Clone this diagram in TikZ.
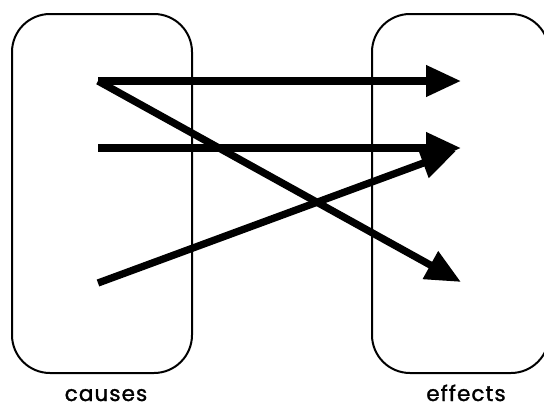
\documentclass[tikz,border=0pt]{standalone}
\usepackage{fontspec}
\newfontfamily\labelfont[LetterSpace=5, FakeBold=1.4]{Poppins}
\usetikzlibrary{arrows.meta}
\begin{document}
\begin{tikzpicture}[x=1pt,y=-1pt,
  groupbox/.style={draw=black, line width=2pt, rounded corners=38pt, minimum width=180pt, minimum height=359pt, inner sep=0pt},
  link/.style={line width=7.3pt, -{Triangle[length=35pt,width=30pt]}},
  caption/.style={anchor=base, inner sep=0pt, font=\labelfont\fontsize{21.5}{24}\selectfont}]
\useasboundingbox (0,0) rectangle (544,405);
\begin{scope}
\clip (0,0) rectangle (544,405);
\node[groupbox] (causes) at (102,193.5) {};
\node[groupbox, minimum width=177pt] (effects) at (460.5,193.5) {};
\end{scope}
\node[caption] (lc) at (106,401) {causes};
\node[caption] (le) at (466,401) {effects};
\coordinate (s1) at (98,81);
\coordinate (s2) at (98,148);
\coordinate (s3) at (98,283);
\coordinate (t1) at (461,81);
\coordinate (t2) at (461,148);
\coordinate (t3) at (461,282);
\coordinate (t4) at (456,151);
\draw[link] (s1) -- (t1);
\draw[link] (s1) -- (t3);
\draw[link] (s2) -- (t2);
\draw[link] (s3) -- (t4);
\end{tikzpicture}
\end{document}
